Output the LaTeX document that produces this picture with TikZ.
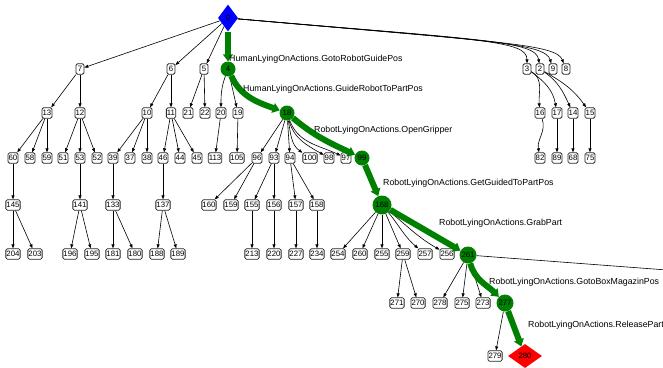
\documentclass[tikz,border=0pt]{standalone}
\usepackage{fontspec}
\setmainfont{Liberation Sans}
\usetikzlibrary{shapes.geometric, arrows.meta}
\definecolor{plangreen}{RGB}{0, 128, 0}

\begin{document}
\begin{tikzpicture}[x=1pt, y=-1pt,
    state/.style={rectangle, draw=black!85, fill=white, line width=0.8pt, rounded corners=1.5pt, inner xsep=0.6pt, inner ysep=0.8pt, minimum width=8pt, minimum height=10.5pt, font=\fontsize{7.8}{7.8}\selectfont},
    onplan/.style={circle, fill=plangreen, inner sep=0pt, minimum size=15pt, font=\fontsize{7.8}{7.8}\selectfont},
    rootstate/.style={diamond, fill=blue, inner sep=0pt, minimum width=20pt, minimum height=27pt, font=\fontsize{7.8}{7.8}\selectfont},
    goalstate/.style={diamond, fill=red, inner sep=0pt, minimum width=34pt, minimum height=24pt, font=\fontsize{7.8}{7.8}\selectfont},
    link/.style={-{Triangle[length=4pt,width=3pt]}, line width=0.6pt},
    plan/.style={-{Triangle[length=7pt,width=10pt]}, line width=6pt, plangreen},
    action/.style={anchor=west, inner sep=0pt, font=\fontsize{8.8}{10}\selectfont}
]
    \clip (0,0) rectangle (663,367);

    % States on the plan
    \node[rootstate] (n0) at (228,18) {0};
    \node[onplan] (n4) at (228,69) {4};
    \node[onplan] (n18) at (287,113) {18};
    \node[onplan] (n99) at (362,158) {99};
    \node[onplan, minimum size=19pt] (n168) at (382,205) {168};
    \node[onplan, minimum size=17pt] (n261) at (468,255) {261};
    \node[onplan, minimum size=17pt] (n277) at (505,303) {277};
    \node[goalstate] (n280) at (525,356) {280};

    % Other states, row by row
    \foreach \n/\x in {7/80, 6/171, 5/204, 3/527, 2/540, 9/553, 8/566}
        \node[state] (n\n) at (\x,69) {\n};
    \foreach \n/\x in {13/47, 12/80, 10/147, 11/171, 21/188, 22/205, 20/221, 19/238, 16/540, 17/557, 14/573, 15/590}
        \node[state] (n\n) at (\x,113) {\n};
    \foreach \n/\x in {60/13, 58/30, 59/47, 51/63, 53/80, 52/97, 39/113, 37/130, 38/147, 46/163, 44/180, 45/197, 113/215, 105/237, 96/257, 93/274, 94/290, 100/310, 98/329, 97/346, 82/540, 89/557, 68/573, 75/590}
        \node[state] (n\n) at (\x,158) {\n};
    \foreach \n/\x in {145/13, 141/80, 133/113, 137/163, 160/209, 159/231, 155/252, 156/274, 157/296, 158/317}
        \node[state] (n\n) at (\x,205) {\n};
    \foreach \n/\x in {204/13, 203/35, 196/70, 195/92, 181/113, 180/135, 188/157, 189/178, 213/252, 220/274, 227/296, 234/317, 254/338, 260/360, 255/382, 259/403, 257/425, 256/447}
        \node[state] (n\n) at (\x,254) {\n};
    \foreach \n/\x in {271/397, 270/418, 278/440, 275/462, 273/483}
        \node[state] (n\n) at (\x,303) {\n};
    \node[state] (n279) at (495,356) {279};
    \coordinate (offpage) at (720,274);

    % Plain transitions
    \foreach \a/\b in {0/7, 0/6, 0/5, 7/13, 7/12, 6/10, 6/11, 5/21, 5/22, 4/19, 13/60, 13/58, 13/59, 12/51, 12/53, 12/52, 10/39, 10/37, 10/38, 11/46, 11/44, 11/45, 20/113, 19/105, 18/96, 18/93, 18/94, 17/89, 14/68, 15/75, 60/145, 53/141, 39/133, 46/137, 96/160, 96/159, 93/155, 93/156, 94/157, 94/158, 145/204, 145/203, 141/196, 141/195, 133/181, 133/180, 137/188, 137/189, 155/213, 156/220, 157/227, 158/234, 168/254, 168/260, 168/255, 168/259, 259/271, 259/270, 261/278, 261/275, 261/273, 277/279}
        \draw[link] (n\a) -- (n\b);
    \draw[link] (n4) to[out=-110, in=90] (n20);
    \draw[link] (n0) .. controls (480,40) and (527,40) .. (n3);
    \draw[link] (n0) .. controls (485,40) and (536,41) .. (n2);
    \draw[link] (n0) .. controls (490,41) and (545,43) .. (n9);
    \draw[link] (n0) .. controls (500,42) and (556,44) .. (n8);
    \draw[link] (n3) to[out=-30, in=95] (n16);
    \draw[link] (n3) to[out=-35, in=100] (n17);
    \draw[link] (n2) to[out=-35, in=115] (n14);
    \draw[link] (n2) to[out=-30, in=125] (n15);
    \draw[link] (n16) to[out=-70, in=100] (n82);
    \draw[link] (n18) to[out=-80, in=145] (n100);
    \draw[link] (n18) to[out=-75, in=150] (n98);
    \draw[link] (n18) to[out=-70, in=155] (n97);
    \draw[link] (n168) to[out=-50, in=140] (n257);
    \draw[link] (n168) to[out=-40, in=150] (n256);
    \draw[line width=0.6pt] (n261) -- (offpage);

    % The plan
    \draw[plan] (n0) -- (n4);
    \draw[plan] (n4) to[out=-65, in=160] (n18);
    \draw[plan] (n18) to[out=-40, in=155] (n99);
    \draw[plan] (n99) -- (n168);
    \draw[plan] (n168) -- (n261);
    \draw[plan] (n261) to[out=-75, in=135] (n277);
    \draw[plan] (n277) -- (n280);

    % Action labels
    \node[action] (a1) at (229,59) {HumanLyingOnActions.GotoRobotGuidePos};
    \node[action] (a2) at (243,89) {HumanLyingOnActions.GuideRobotToPartPos};
    \node[action] (a3) at (314,130) {RobotLyingOnActions.OpenGripper};
    \node[action] (a4) at (383,183) {RobotLyingOnActions.GetGuidedToPartPos};
    \node[action] (a5) at (439,223) {RobotLyingOnActions.GrabPart};
    \node[action] (a6) at (489,282) {RobotLyingOnActions.GotoBoxMagazinPos};
    \node[action] (a7) at (528,325) {RobotLyingOnActions.ReleasePart};
\end{tikzpicture}
\end{document}
